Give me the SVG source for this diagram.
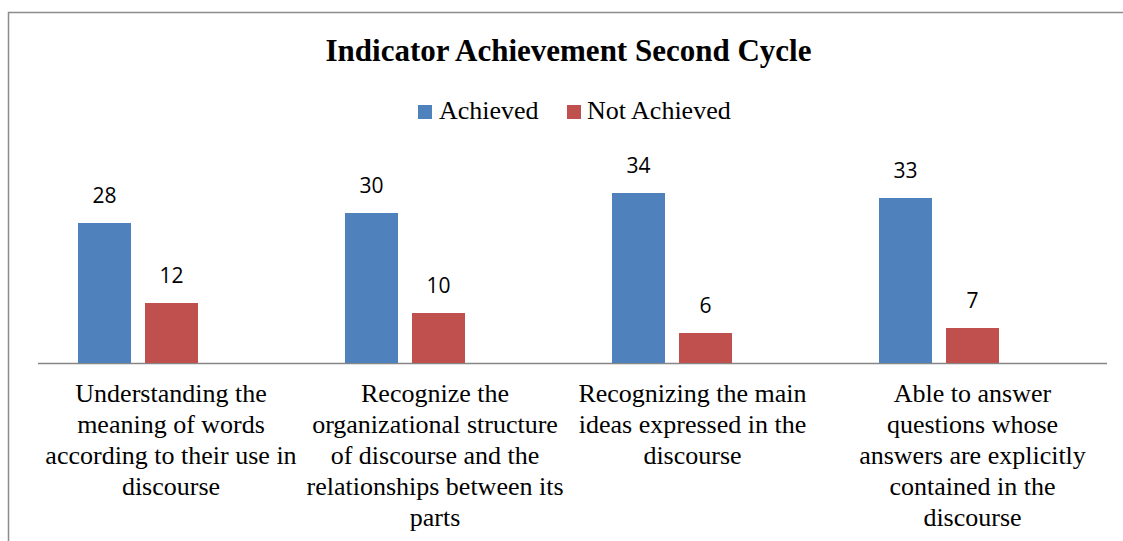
<svg xmlns="http://www.w3.org/2000/svg" width="1123" height="541" viewBox="0 0 1123 541">
<style>
.title{font-family:"Liberation Serif","Times New Roman",serif;font-weight:bold;font-size:31px;fill:#000;text-anchor:middle}
.leg{font-family:"Liberation Serif","Times New Roman",serif;font-size:26px;fill:#000}
.cat{font-family:"Liberation Serif","Times New Roman",serif;font-size:26px;fill:#000;text-anchor:middle}
.val{font-family:"Open Sans","Liberation Sans",sans-serif;font-size:21px;fill:#000;text-anchor:middle}
.ach{fill:#4F81BD}
.not{fill:#C0504D}
</style>
<rect x="0" y="0" width="1123" height="541" fill="#fff"/>
<rect x="8.5" y="12.5" width="1200" height="600" fill="none" stroke="#8c8c8c" stroke-width="1.5"/>
<text class="title" x="568.5" y="61">Indicator Achievement Second Cycle</text>
<g id="legend">
<rect class="ach" x="418" y="105" width="14" height="14"/>
<text class="leg" x="439" y="119">Achieved</text>
<rect class="not" x="567" y="105" width="14" height="14"/>
<text class="leg" x="587" y="119">Not Achieved</text>
</g>
<g id="connectors">
<line x1="38" y1="363.5" x2="1107" y2="363.5" stroke="#868686" stroke-width="1.5"/>
</g>
<g id="group1">
<rect class="ach" x="78" y="223" width="53" height="140"/>
<rect class="not" x="145" y="303" width="53" height="60"/>
<text class="val" x="104.5" y="203">28</text>
<text class="val" x="171.5" y="283">12</text>
<text class="cat" x="171"><tspan x="171" y="402">Understanding the</tspan><tspan x="171" y="433">meaning of words</tspan><tspan x="171" y="464">according to their use in</tspan><tspan x="171" y="495">discourse</tspan></text>
</g>
<g id="group2">
<rect class="ach" x="345" y="213" width="53" height="150"/>
<rect class="not" x="412" y="313" width="53" height="50"/>
<text class="val" x="371.5" y="193">30</text>
<text class="val" x="438.5" y="293">10</text>
<text class="cat" x="435"><tspan x="435" y="402">Recognize the</tspan><tspan x="435" y="433">organizational structure</tspan><tspan x="435" y="464">of discourse and the</tspan><tspan x="435" y="495">relationships between its</tspan><tspan x="435" y="526">parts</tspan></text>
</g>
<g id="group3">
<rect class="ach" x="612" y="193" width="53" height="170"/>
<rect class="not" x="679" y="333" width="53" height="30"/>
<text class="val" x="638.5" y="173">34</text>
<text class="val" x="705.5" y="313">6</text>
<text class="cat" x="692.5"><tspan x="692.5" y="402">Recognizing the main</tspan><tspan x="692.5" y="433">ideas expressed in the</tspan><tspan x="692.5" y="464">discourse</tspan></text>
</g>
<g id="group4">
<rect class="ach" x="879" y="198" width="53" height="165"/>
<rect class="not" x="946" y="328" width="53" height="35"/>
<text class="val" x="905.5" y="178">33</text>
<text class="val" x="972.5" y="308">7</text>
<text class="cat" x="972.5"><tspan x="972.5" y="402">Able to answer</tspan><tspan x="972.5" y="433">questions whose</tspan><tspan x="972.5" y="464">answers are explicitly</tspan><tspan x="972.5" y="495">contained in the</tspan><tspan x="972.5" y="526">discourse</tspan></text>
</g>
</svg>
